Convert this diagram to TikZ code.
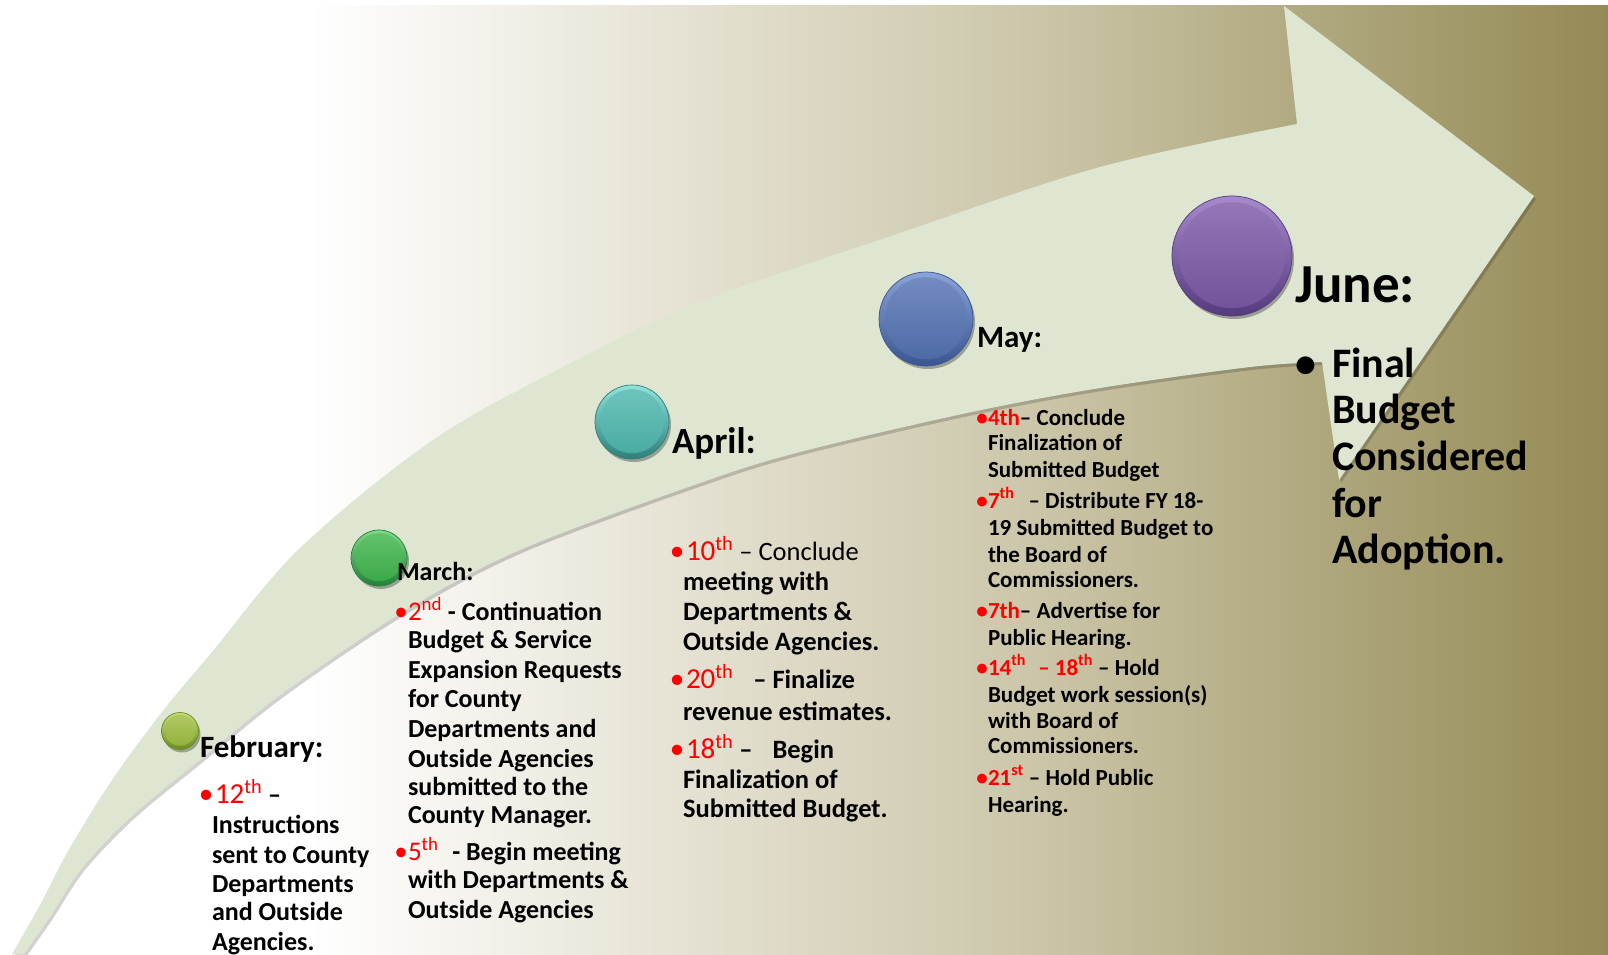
\documentclass[tikz,border=0pt]{standalone}
\usepackage{fontspec}
\setmainfont{Carlito}
\usetikzlibrary{shadows}
\definecolor{sage}{HTML}{DEE6D1}
\definecolor{bgA}{HTML}{E3DFCF}
\definecolor{bgB}{HTML}{CCC7AA}
\definecolor{bgC}{HTML}{B2AB83}
\definecolor{bgD}{HTML}{958A55}
\definecolor{febL}{HTML}{C7E07A}\definecolor{febB}{HTML}{9EBE3E}\definecolor{febD}{HTML}{6B8A22}
\definecolor{marL}{HTML}{7ED987}\definecolor{marB}{HTML}{3DB54A}\definecolor{marD}{HTML}{23803A}
\definecolor{aprL}{HTML}{8FE3DB}\definecolor{aprB}{HTML}{4BB8AE}\definecolor{aprD}{HTML}{2E7F7A}
\definecolor{mayL}{HTML}{8AA4D9}\definecolor{mayB}{HTML}{5271B3}\definecolor{mayD}{HTML}{3A5590}
\definecolor{junL}{HTML}{A789CE}\definecolor{junB}{HTML}{7A57A6}\definecolor{junD}{HTML}{553A7E}
\pgfdeclarehorizontalshading{bgshade}{100bp}{color(0bp)=(white); color(34.6bp)=(white); color(47.3bp)=(bgA); color(56.9bp)=(bgB); color(64.9bp)=(bgC); color(75bp)=(bgD); color(100bp)=(bgD)}
\newcommand\rd[1]{{\color{red}#1}}
\newcommand\sps[1]{\textsuperscript{#1}}
\newcommand\arrowpath{plot[smooth, tension=0.55] coordinates {(12,954) (40,905) (67,853) (110,783) (162,712) (212,652) (300,548) (433,440) (567,365) (700,302) (900,233) (1100,167) (1297,124)} -- (1284,6) -- (1534,196) -- (1339,480) -- (1322,362) -- plot[smooth, tension=0.55] coordinates {(1322,362) (1250,367) (1100,388) (967,413) (800,452) (700,483) (520,550) (403,612) (283,693) (200,760) (133,815) (83,867) (50,917) (24,954)} -- cycle}
\tikzset{
  tl/.style={anchor=base west, inner sep=0pt, outer sep=0pt},
  bul/.style={anchor=base, inner sep=0pt, outer sep=0pt, text=red},
  fbody/.style={tl, font=\fontsize{26}{29}\selectfont\bfseries},
  abody/.style={tl, font=\fontsize{26.5}{30}\selectfont\bfseries},
  mbody/.style={tl, font=\fontsize{23}{26}\selectfont\bfseries},
  jbody/.style={tl, font=\fontsize{42}{46}\selectfont\bfseries},
  btn/.style n args={4}{circle, inner sep=0pt, top color=#1, bottom color=#3, draw=#3, line width=0.7pt,
    drop shadow={shadow xshift=2pt, shadow yshift=-3pt, opacity=0.3, fill=black},
    path picture={\shade[top color=#2!80!white, bottom color=#2!92!black] ([yshift=0.8pt]path picture bounding box.center) circle[radius=#4];}},
}
\begin{document}
\begin{tikzpicture}[x=1pt, y=-1pt]
\useasboundingbox (0,0) rectangle (1608,954);
\fill[white] (0,0) rectangle (1608,954);
\shade[shading=bgshade] (0,5) rectangle (1608,954);
% arrow
\begin{scope}[shift={(2,3)}]
\fill[black, opacity=0.18] \arrowpath;
\end{scope}
\fill[sage] \arrowpath;
% circles
\node[btn={febL}{febB}{febD}{15.5pt}, minimum size=37pt] (feb) at (180,731) {};
\node[btn={marL}{marB}{marD}{24pt}, minimum size=56pt] (mar) at (379,558) {};
\node[btn={aprL}{aprB}{aprD}{32pt}, minimum size=74pt] (apr) at (632,422) {};
\node[btn={mayL}{mayB}{mayD}{41pt}, minimum size=94pt] (may) at (926,319) {};
\node[btn={junL}{junB}{junD}{53pt}, minimum size=120pt] (jun) at (1232,256) {};
% February
\node[tl, font=\fontsize{31}{31}\selectfont\bfseries] (fh) at (200,757) {February:};
\node[bul, font=\fontsize{29}{29}\selectfont] (fb1) at (206,803) {•};
\node[fbody] (f1) at (215,803) {{\fontsize{29}{29}\selectfont\mdseries\rd{12\sps{th}}} –};
\node[fbody] (f2) at (212,833) {Instructions};
\node[fbody] (f3) at (212,863) {sent to County};
\node[fbody] (f4) at (212,892) {Departments};
\node[fbody] (f5) at (212,920) {and Outside};
\node[fbody] (f6) at (212,950) {Agencies.};
% March
\node[fbody] (mh) at (397,580) {March:};
\node[bul, font=\fontsize{27}{27}\selectfont] (mb1) at (401,620) {•};
\node[fbody] (m1) at (408,620) {{\fontsize{27}{27}\selectfont\mdseries\rd{2\sps{nd}}} - Continuation};
\node[fbody] (m2) at (408,648) {Budget \& Service};
\node[fbody] (m3) at (408,678) {Expansion Requests};
\node[fbody] (m4) at (408,707) {for County};
\node[fbody] (m5) at (408,737) {Departments and};
\node[fbody] (m6) at (408,767) {Outside Agencies};
\node[fbody] (m7) at (408,795) {submitted to the};
\node[fbody] (m8) at (408,823) {County Manager.};
\node[bul, font=\fontsize{27}{27}\selectfont] (mb2) at (401,860) {•};
\node[fbody] (m9) at (408,860) {{\fontsize{27}{27}\selectfont\mdseries\rd{5\sps{th}}}\hspace{8pt} - Begin meeting};
\node[fbody] (m10) at (408,888) {with Departments \&};
\node[fbody] (m11) at (408,918) {Outside Agencies};
% April
\node[tl, font=\fontsize{37}{37}\selectfont\bfseries] (ah) at (672,453) {April:};
\node[bul, font=\fontsize{29}{29}\selectfont] (ab1) at (677,560) {•};
\node[abody] (a1) at (686,560) {{\fontsize{29}{29}\selectfont\mdseries\rd{10\sps{th}}} {\mdseries – Conclude}};
\node[abody] (a2) at (683,590) {meeting with};
\node[abody] (a3) at (683,620) {Departments \&};
\node[abody] (a4) at (683,650) {Outside Agencies.};
\node[bul, font=\fontsize{29}{29}\selectfont] (ab2) at (677,688) {•};
\node[abody] (a5) at (686,688) {{\fontsize{29}{29}\selectfont\mdseries\rd{20\sps{th}}}\hspace{20pt}– Finalize};
\node[abody] (a6) at (683,720) {revenue estimates.};
\node[bul, font=\fontsize{29}{29}\selectfont] (ab3) at (677,758) {•};
\node[abody] (a7) at (686,758) {{\fontsize{29}{29}\selectfont\mdseries\rd{18\sps{th}}} –\hspace{20pt}Begin};
\node[abody] (a8) at (683,788) {Finalization of};
\node[abody] (a9) at (683,817) {Submitted Budget.};
% May
\node[tl, font=\fontsize{31}{31}\selectfont\bfseries] (yh) at (977,347) {May:};
\node[bul, font=\fontsize{23}{23}\selectfont\bfseries] (yb1) at (982,425) {•};
\node[mbody] (y1) at (988,425) {\rd{4th}– Conclude};
\node[mbody] (y2) at (988,450) {Finalization of};
\node[mbody] (y3) at (988,477) {Submitted Budget};
\node[bul, font=\fontsize{23}{23}\selectfont\bfseries] (yb2) at (982,508) {•};
\node[mbody] (y4) at (988,508) {\rd{7\sps{th}}\hspace{9pt} – Distribute FY 18-};
\node[mbody] (y5) at (988,535) {19 Submitted Budget to};
\node[mbody] (y6) at (988,562) {the Board of};
\node[mbody] (y7) at (988,587) {Commissioners.};
\node[bul, font=\fontsize{23}{23}\selectfont\bfseries] (yb3) at (982,618) {•};
\node[mbody] (y8) at (988,618) {\rd{7th}– Advertise for};
\node[mbody] (y9) at (988,645) {Public Hearing.};
\node[bul, font=\fontsize{23}{23}\selectfont\bfseries] (yb4) at (982,675) {•};
\node[mbody] (y10) at (988,675) {\rd{14\sps{th}\hspace{7pt} – 18\sps{th}} – Hold};
\node[mbody] (y11) at (988,702) {Budget work session(s)};
\node[mbody] (y12) at (988,728) {with Board of};
\node[mbody] (y13) at (988,753) {Commissioners.};
\node[bul, font=\fontsize{23}{23}\selectfont\bfseries] (yb5) at (982,785) {•};
\node[mbody] (y14) at (988,785) {\rd{21\sps{st}} – Hold Public};
\node[mbody] (y15) at (988,812) {Hearing.};
% June
\node[tl, font=\fontsize{55}{55}\selectfont\bfseries] (jh) at (1295,302) {June:};
\node[bul, text=black, font=\fontsize{42}{42}\selectfont\bfseries] (jb) at (1306,377) {•};
\node[jbody] (j1) at (1332,377) {Final};
\node[jbody] (j2) at (1332,423) {Budget};
\node[jbody] (j3) at (1332,470) {Considered};
\node[jbody] (j4) at (1332,517) {for};
\node[jbody] (j5) at (1332,563) {Adoption.};
\end{tikzpicture}
\end{document}
